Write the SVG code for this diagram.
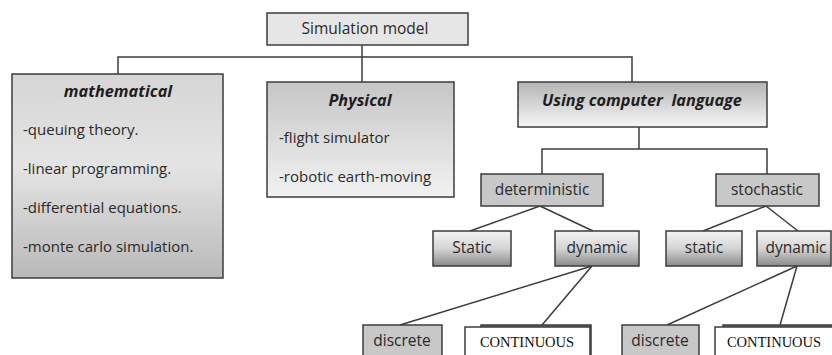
<svg xmlns="http://www.w3.org/2000/svg" width="832" height="355" viewBox="0 0 832 355">
<defs>
<linearGradient id="gMath" x1="0" y1="0" x2="0" y2="1">
<stop offset="0" stop-color="#d6d6d6"/><stop offset="0.45" stop-color="#e4e4e4"/><stop offset="1" stop-color="#b9b9b9"/>
</linearGradient>
<linearGradient id="gPhys" x1="0" y1="0" x2="0" y2="1">
<stop offset="0" stop-color="#c6c6c6"/><stop offset="1" stop-color="#f2f2f2"/>
</linearGradient>
<linearGradient id="gUcl" x1="0" y1="0" x2="0" y2="1">
<stop offset="0" stop-color="#b4b4b4"/><stop offset="1" stop-color="#f6f6f6"/>
</linearGradient>
<linearGradient id="gLeaf" x1="0" y1="0" x2="0" y2="1">
<stop offset="0" stop-color="#f4f4f4"/><stop offset="0.5" stop-color="#d4d4d4"/><stop offset="1" stop-color="#8a8a8a"/>
</linearGradient>
</defs>
<style>
rect{stroke:#3c3c3c;stroke-width:1.5}
.t{font-family:"Open Sans","Liberation Sans",sans-serif;fill:#2a2a2a;font-size:15.5px}
.l{font-family:"Open Sans","Liberation Sans",sans-serif;fill:#2a2a2a;font-size:15px}
.h{font-family:"Open Sans","Liberation Sans",sans-serif;font-weight:bold;font-style:italic;fill:#1e1e1e;font-size:16.3px;white-space:pre}
.c{font-family:"Liberation Serif","Times New Roman",serif;fill:#111;font-size:14.5px}
.m{text-anchor:middle}
#connectors path{fill:none;stroke:#3c3c3c;stroke-width:1.5}
</style>
<g id="connectors">
<path d="M362,45 V82"/>
<path d="M118,74 V57 H632 V82"/>
<path d="M639,127 V149"/>
<path d="M542,174 V149 H767 V174"/>
<path d="M540,206 L470,231"/>
<path d="M540,206 L593,231"/>
<path d="M766,206 L703,231"/>
<path d="M766,206 L798,231"/>
<path d="M592,266 L400,325"/>
<path d="M592,266 L542,325"/>
<path d="M797,266 L667,325"/>
<path d="M797,266 L780,325"/>
</g>
<g id="sim">
<rect x="267" y="13" width="201" height="32" fill="#e6e6e6"/>
<text class="t m" x="365" y="34">Simulation model</text>
</g>
<g id="math">
<rect x="12" y="74" width="211" height="204" fill="url(#gMath)"/>
<text class="h m" x="118" y="97">mathematical</text>
<text class="l" x="23" y="135">-queuing theory.</text>
<text class="l" x="23" y="174">-linear  programming.</text>
<text class="l" x="23" y="213">-differential equations.</text>
<text class="l" x="23" y="252">-monte carlo simulation.</text>
</g>
<g id="phys">
<rect x="267" y="82" width="187" height="115" fill="url(#gPhys)"/>
<text class="h m" x="360" y="106">Physical</text>
<text class="l" x="279" y="143">-flight simulator</text>
<text class="l" x="279" y="182">-robotic earth-moving</text>
</g>
<g id="ucl">
<rect x="518" y="82" width="249" height="45" fill="url(#gUcl)"/>
<text class="h m" x="642" y="106" xml:space="preserve">Using computer  language</text>
</g>
<g id="det">
<rect x="481" y="174" width="122" height="32" fill="#c8c8c8"/>
<text class="t m" x="542" y="195">deterministic</text>
</g>
<g id="stoch">
<rect x="716" y="174" width="103" height="32" fill="#c8c8c8"/>
<text class="t m" x="767" y="195">stochastic</text>
</g>
<g id="static1">
<rect x="433" y="231" width="78" height="35" fill="url(#gLeaf)"/>
<text class="t m" x="472" y="253">Static</text>
</g>
<g id="dynamic1">
<rect x="555" y="231" width="84" height="35" fill="url(#gLeaf)"/>
<text class="t m" x="597" y="253">dynamic</text>
</g>
<g id="static2">
<rect x="666" y="231" width="76" height="35" fill="url(#gLeaf)"/>
<text class="t m" x="704" y="253">static</text>
</g>
<g id="dynamic2">
<rect x="757" y="231" width="74" height="35" fill="url(#gLeaf)"/>
<text class="t m" x="796" y="253">dynamic</text>
</g>
<g id="discrete1">
<rect x="363" y="325" width="79" height="40" fill="#c8c8c8"/>
<text class="t m" x="402" y="346">discrete</text>
</g>
<g id="continuous1">
<rect x="481" y="325" width="110" height="40" fill="#7a7a7a"/>
<rect x="465" y="327" width="125" height="40" fill="#ffffff"/>
<text class="c m" x="527" y="347">CONTINUOUS</text>
</g>
<g id="discrete2">
<rect x="622" y="325" width="77" height="40" fill="#c8c8c8"/>
<text class="t m" x="660" y="346">discrete</text>
</g>
<g id="continuous2">
<rect x="723" y="325" width="120" height="40" fill="#7a7a7a"/>
<rect x="715" y="327" width="125" height="40" fill="#ffffff"/>
<text class="c m" x="774" y="347">CONTINUOUS</text>
</g>
</svg>
